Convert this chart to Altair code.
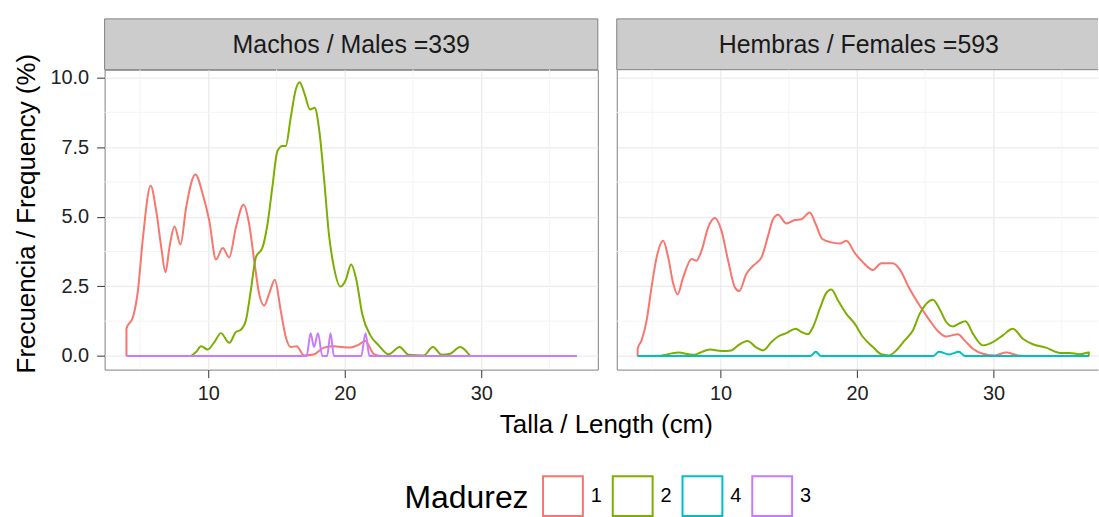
import altair as alt
import pandas as pd

# ---------------- data ----------------
panel_titles = ["Machos / Males =339", "Hembras / Females =593"]
x_title = "Talla / Length (cm)"
y_title = "Frecuencia / Frequency (%)"
levels = ["1", "2", "4", "3"]
colors = ["#F8766D", "#7CAE00", "#00BFC4", "#C77CFF"]

# Males
m1_x = [4.0, 4.0, 4.48, 4.84, 5.21, 5.77, 6.18, 6.55, 6.86, 7.15, 7.52, 7.96, 8.37, 9.05, 9.59,
        10.07, 10.56, 11.05, 11.53, 12.02, 12.58, 12.99, 13.36, 13.72, 14.09, 14.45, 14.87, 15.30,
        15.67, 16.03, 16.47, 17.0, 17.7, 18.47, 19.2, 19.8, 20.4, 21.0, 21.5, 22.1, 22.6]
m1_y = [0, 0.98, 1.40, 2.35, 4.26, 6.11, 5.21, 3.90, 3.0, 3.90, 4.65, 4.0, 5.33, 6.52, 5.81,
        4.85, 3.46, 3.88, 3.54, 4.62, 5.43, 4.73, 3.42, 2.23, 1.81, 2.23, 2.74, 1.63,
        0.68, 0.32, 0.35, 0.02, 0.05, 0.30, 0.35, 0.32, 0.30, 0.40, 0.54, 0.08, 0]
m2_x = [8.73, 9.10, 9.46, 9.95, 10.44, 10.92, 11.53, 12.02, 12.38, 12.75, 13.11, 13.48, 13.97,
        14.33, 14.70, 15.06, 15.43, 15.67, 16.03, 16.40, 16.69, 17.06, 17.45, 17.79, 18.10, 18.47,
        18.83, 19.20, 19.68, 20.05, 20.46, 20.85, 21.27, 21.87, 22.48, 23.21, 24.01, 24.67, 25.77,
        26.45, 27.10, 27.71, 28.44, 29.17]
m2_y = [0, 0.14, 0.35, 0.23, 0.50, 0.82, 0.47, 0.86, 0.94, 1.28, 2.35, 3.54, 3.90,
        4.73, 6.11, 7.36, 7.54, 7.54, 8.55, 9.56, 9.83, 9.39, 8.85, 8.91, 8.19, 6.40,
        4.38, 3.18, 2.49, 2.71, 3.28, 2.71, 1.51, 0.74, 0.38, 0.06, 0.32, 0.04, 0.02,
        0.32, 0.04, 0.08, 0.32, 0]
m3_x = [4.0, 17.2, 17.49, 17.74, 18.03, 18.35, 18.7, 18.95, 19.2, 21.2, 21.51, 21.8, 37.0]
m3_y = [0, 0, 0.82, 0.32, 0.82, 0, 0, 0.82, 0, 0, 0.82, 0, 0]

# Females
f1_x = [3.93, 3.93, 4.22, 4.59, 4.95, 5.32, 5.80, 6.17, 6.54, 6.85, 7.27, 7.88, 8.24, 8.61, 9.10,
        9.59, 10.07, 10.56, 11.05, 11.37, 11.90, 12.39, 13.0, 13.49, 13.85, 14.22, 14.83, 15.44,
        15.93, 16.54, 16.98, 17.46, 18.12, 18.73, 19.22, 19.83, 20.44, 21.17, 21.78, 22.59, 23.12,
        23.85, 24.59, 25.32, 25.93, 26.54, 27.39, 27.88, 28.49, 29.22, 30.07, 30.93, 31.78, 32.4]
f1_y = [0, 0.26, 0.56, 1.28, 2.47, 3.54, 4.14, 3.54, 2.59, 2.21, 2.83, 3.48, 3.42, 3.78, 4.62,
        4.95, 4.50, 3.42, 2.47, 2.33, 2.95, 3.24, 3.54, 4.32, 4.91, 5.07, 4.76, 4.88,
        4.91, 5.15, 4.73, 4.20, 4.08, 4.04, 4.14, 3.70, 3.36, 3.09, 3.33, 3.33, 3.12,
        2.41, 1.81, 1.28, 0.89, 0.70, 0.78, 0.56, 0.26, 0.08, 0.02, 0.12, 0.02, 0]
f2_x = [3.93, 5.5, 6.90, 8.0, 9.22, 10.07, 10.80, 11.29, 11.98, 12.63, 13.12, 13.73, 14.22, 14.83,
        15.51, 15.93, 16.41, 16.78, 17.27, 17.71, 18.12, 18.61, 19.22, 19.83, 20.44, 21.17, 21.78,
        22.34, 22.88, 23.49, 24.10, 24.59, 25.07, 25.56, 26.05, 26.54, 27.02, 27.46, 27.95, 28.49,
        29.22, 29.95, 30.68, 31.41, 32.15, 32.88, 33.85, 34.83, 35.56, 36.29, 36.98, 36.98]
f2_y = [0, 0.01, 0.12, 0.04, 0.23, 0.18, 0.20, 0.38, 0.54, 0.30, 0.20, 0.50, 0.70, 0.82,
        0.98, 0.86, 0.78, 1.04, 1.69, 2.23, 2.39, 1.99, 1.51, 1.16, 0.68, 0.32, 0.06,
        0.02, 0.20, 0.56, 0.92, 1.51, 1.87, 2.02, 1.69, 1.22, 1.06, 1.16, 1.25, 0.80,
        0.38, 0.50, 0.74, 0.98, 0.62, 0.42, 0.30, 0.11, 0.11, 0.06, 0.12, 0]
f4_x = [3.93, 16.6, 16.98, 17.35, 25.6, 26.0, 26.75, 27.46, 27.9, 37.0]
f4_y = [0, 0, 0.15, 0, 0, 0.15, 0.05, 0.15, 0, 0]

x_ticks = [10, 20, 30]
x_minor = [5, 15, 25, 35]
y_ticks = [0, 2.5, 5, 7.5, 10]
y_minor = [1.25, 3.75, 6.25, 8.75]

# ---------------- build tables ----------------
def series(xs, ys, lev):
    return pd.DataFrame({"talla": xs, "freq": ys, "Madurez": lev, "i": range(len(xs))})

male = pd.concat([series(m1_x, m1_y, "1"), series(m2_x, m2_y, "2"), series(m3_x, m3_y, "3")])
female = pd.concat([series(f1_x, f1_y, "1"), series(f2_x, f2_y, "2"), series(f4_x, f4_y, "4")])

FONT = "Liberation Sans"
BORDER = "#7f7f7f"
STRIP_FILL = "#cccccc"
H = 301
STRIP_H = 51
W_L = 495
W_R = 483
GAP = 17
XS = 13.7  # px per cm

color_enc = alt.Color("Madurez:N", scale=alt.Scale(domain=levels, range=colors), title="Madurez")
y_scale = alt.Scale(domain=[-0.49, 10.28], nice=False, zero=False)
NOVIEW = alt.ViewBackground(stroke="transparent")


def panel(df, order, width, left, label, label_center):
    x_scale = alt.Scale(domain=[2.4, 2.4 + width / XS], nice=False, zero=False)
    x_axis = alt.Axis(values=x_ticks, title=None, labelFontSize=20, labelColor="#222222",
                      tickSize=8, tickColor="#333333", labelPadding=6, gridColor="#ebebeb",
                      gridWidth=1.3, domain=not left, domainColor=BORDER, labelFont=FONT)
    if left:
        y_axis = alt.Axis(values=y_ticks, format=".1f", title=y_title,
                          titleFontSize=26, titleFontWeight="normal", titleFont=FONT,
                          titleColor="#000000", titlePadding=10, titleY=144,
                          labelFontSize=20, labelColor="#222222", labelFont=FONT,
                          tickSize=8, tickColor="#333333", labelPadding=8,
                          domain=False, gridColor="#ebebeb", gridWidth=1.3)
    else:
        y_axis = alt.Axis(values=y_ticks, title=None, labels=False, ticks=False,
                          domain=True, domainColor=BORDER, gridColor="#ebebeb", gridWidth=1.3)

    lab = alt.Chart(pd.DataFrame({"label": [label]}))
    layers = []
    if left:
        layers.append(lab.mark_rect(fill=STRIP_FILL, stroke=BORDER, strokeWidth=1).encode(
            x=alt.value(0), x2=alt.value(width), y=alt.value(-STRIP_H), y2=alt.value(0)))
    else:
        layers.append(lab.mark_rect(fill=STRIP_FILL).encode(
            x=alt.value(0), x2=alt.value(width), y=alt.value(-STRIP_H), y2=alt.value(0)))
        for yy in (-STRIP_H, 0):
            layers.append(lab.mark_rule(color=BORDER, strokeWidth=1).encode(
                x=alt.value(0), x2=alt.value(width), y=alt.value(yy)))
        layers.append(lab.mark_rule(color=BORDER, strokeWidth=1).encode(
            x=alt.value(0), y=alt.value(-STRIP_H), y2=alt.value(0)))
    layers.append(lab.mark_text(font=FONT, fontSize=25, color="#1a1a1a", baseline="middle").encode(
        x=alt.value(label_center), y=alt.value(-STRIP_H / 2 + 1), text="label:N"))

    layers.append(alt.Chart(pd.DataFrame({"v": x_minor})).mark_rule(color="#f4f4f4", strokeWidth=1)
                  .encode(x=alt.X("v:Q", scale=x_scale, axis=x_axis)))
    layers.append(alt.Chart(pd.DataFrame({"v": y_minor})).mark_rule(color="#f4f4f4", strokeWidth=1)
                  .encode(y=alt.Y("v:Q", scale=y_scale, axis=y_axis)))
    for lev in order:
        layers.append(
            alt.Chart(df).transform_filter(alt.datum.Madurez == lev)
            .mark_line(strokeWidth=2, interpolate="monotone")
            .encode(x=alt.X("talla:Q", scale=x_scale, axis=x_axis),
                    y=alt.Y("freq:Q", scale=y_scale, axis=y_axis),
                    color=color_enc,
                    order=alt.Order("i:Q"))
        )
    ch = alt.layer(*layers).properties(width=width, height=H)
    if not left:
        ch = ch.properties(view=NOVIEW)
    return ch


left = panel(male, ["1", "2", "3"], W_L, True, panel_titles[0], W_L / 2)
right = panel(female, ["1", "2", "4"], W_R, False, panel_titles[1], 243)
panels = alt.hconcat(left, right, spacing=GAP)

xt = alt.Chart(pd.DataFrame({"t": [x_title]})).mark_text(
    font=FONT, fontSize=26, color="#000000", baseline="middle").encode(
    x=alt.value(503.5), y=alt.value(20), text="t:N").properties(
    width=W_L + GAP + W_R, height=34, view=NOVIEW)

chart = alt.vconcat(panels, xt, spacing=0).properties(
    padding={"left": 13, "top": 17, "right": 0, "bottom": 0},
).configure_view(stroke=BORDER, strokeWidth=1).configure_legend(
    orient="none", legendX=301, legendY=407, direction="horizontal",
    titleOrient="left", titleFontSize=32, titleFontWeight="normal", titleFont=FONT,
    titleColor="#000000", titlePadding=13, titleBaseline="middle",
    symbolType="square", symbolSize=1600, symbolStrokeWidth=2, symbolFillColor="white",
    labelFontSize=20, labelFont=FONT, labelColor="#000000", labelOffset=7, columnPadding=6,
)

chart.save("out.html", embed_options={"renderer": "svg", "actions": False})
